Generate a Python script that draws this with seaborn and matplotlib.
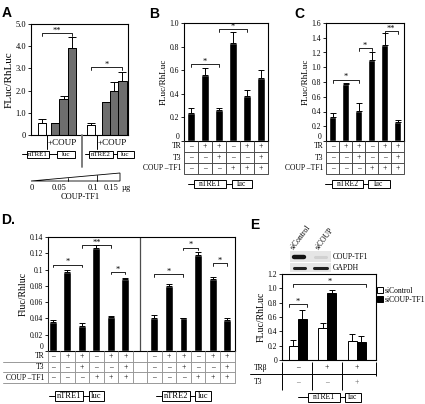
import numpy as np
import pandas as pd
import matplotlib
matplotlib.use('Agg')
import matplotlib.pyplot as plt
import matplotlib.transforms as mtransforms
from matplotlib.patches import Rectangle, Polygon
import seaborn as sns

W, H = 425, 404

# ---- data ----
# A: COUP-TF1 titration on nTRE1 / nTRE2
a_kind = ['ctrl', 'coup', 'coup', 'coup', 'ctrl', 'coup', 'coup', 'coup']
a_vals = [0.55, 0.55, 1.62, 3.92, 0.45, 1.50, 2.00, 2.42]
a_err = [0.15, 0.0, 0.12, 0.50, 0.07, 0.0, 0.40, 0.42]
a_pos = [0, 1.6, 2.6, 3.6, 5.9, 7.7, 8.7, 9.7]

# B / C
b_vals = [0.24, 0.56, 0.26, 0.83, 0.38, 0.53]
b_err = [0.04, 0.06, 0.02, 0.09, 0.05, 0.07]
c_vals = [0.33, 0.77, 0.41, 1.10, 1.30, 0.26]
c_err = [0.05, 0.02, 0.10, 0.10, 0.17, 0.03]
tr_row = ['–', '+', '+', '–', '+', '+']
t3_row = ['–', '–', '+', '–', '–', '+']
coup_row = ['–', '–', '–', '+', '+', '+']
row_names = ['TR', 'T3', 'COUP –TF1']

# D
d_vals_1 = [0.036, 0.097, 0.031, 0.127, 0.042, 0.088]
d_err_1 = [0.0015, 0.003, 0.003, 0.003, 0.0005, 0.002]
d_vals_2 = [0.041, 0.080, 0.040, 0.118, 0.089, 0.038]
d_err_2 = [0.003, 0.002, 0.001, 0.004, 0.002, 0.002]
d_pos = [0, 1, 2, 3, 4, 5, 7, 8, 9, 10, 11, 12]

# E
e_cond = ['a', 'b', 'c']
e_sicontrol = [0.20, 0.45, 0.27]
e_sicontrol_err = [0.08, 0.06, 0.09]
e_sicoup = [0.57, 0.93, 0.25]
e_sicoup_err = [0.13, 0.05, 0.09]
e_trb = ['–', '+', '+']
e_t3 = ['–', '–', '+']

sns.set_theme(style='ticks', rc={'axes.edgecolor': 'black', 'xtick.color': 'black',
                                 'ytick.color': 'black', 'text.color': 'black',
                                 'axes.labelcolor': 'black', 'axes.linewidth': 0.8})
plt.rcParams['font.family'] = ['Liberation Serif', 'DejaVu Serif']

fig = plt.figure(figsize=(W / 100, H / 100), dpi=100)
ov = fig.add_axes([0, 0, 1, 1], zorder=5)
ov.set_xlim(0, W)
ov.set_ylim(H, 0)
ov.axis('off')


def rect(x0, y0, x1, y1):
    return [x0 / W, 1 - y1 / H, (x1 - x0) / W, (y1 - y0) / H]


def style(ax, top, ticks, labels, ylabel, fs=5.5, lfs=6.5, lift_zero=True):
    ax.set_ylim(0, top)
    ax.set_yticks(ticks)
    ax.set_yticklabels(labels, fontsize=fs)
    ax.set_xticks([])
    ax.set_xlabel('')
    ax.set_ylabel(ylabel, fontsize=lfs, labelpad=1.5)
    for s in ax.spines.values():
        s.set_linewidth(0.8)
        s.set_visible(True)
    ax.tick_params(axis='y', length=2, width=0.6, pad=1.5)
    if lift_zero:
        ax.get_yticklabels()[0].set_va('bottom')


def err(ax, xs, vals, errs, cap=2.5):
    ax.errorbar(xs, vals, yerr=[np.zeros(len(vals)), errs], fmt='none',
                ecolor='black', elinewidth=0.7, capsize=cap, capthick=0.7)


def bracket(ax, x1, x2, y, txt, drop, fs=6):
    ax.plot([x1, x1, x2, x2], [y - drop, y, y, y - drop], color='black', lw=0.6)
    ax.annotate(txt, ((x1 + x2) / 2, y), xytext=(0, 0.3), textcoords='offset points',
                ha='center', va='baseline', fontsize=fs)


def promoter(x0, b0, b1, l0, l1, y, name, h=8, fs=5.5):
    ov.plot([x0, b0], [y, y], color='black', lw=0.7)
    ov.plot([b1, l0], [y, y], color='black', lw=0.7)
    for a, b, t in [(b0, b1, name), (l0, l1, 'luc')]:
        ov.add_patch(Rectangle((a, y - h / 2), b - a, h, facecolor='white',
                               edgecolor='black', lw=0.7))
        ov.text((a + b) / 2, y, t, ha='center', va='center', fontsize=fs)


def cond_table(ax, rpx, rows, names, cols, lab_x, line_col='0.3', hl_left=0.0, fs=5.5):
    t = fig.add_axes(rect(*rpx))
    lo, hi = ax.get_xlim()
    t.set_xlim(lo, hi)
    n = len(rows)
    t.set_ylim(n, 0)
    t.axis('off')
    bounds = [lo] + [k + 0.5 for k in range(int(max(cols)))] + [hi]
    t.vlines(bounds, 0, n, color=line_col, lw=0.7, clip_on=False)
    tr = mtransforms.blended_transform_factory(t.transAxes, t.transData)
    for k in range(1, n + 1):
        t.plot([hl_left, 1], [k, k], color=line_col, lw=0.7, transform=tr, clip_on=False)
    for r, (row, name) in enumerate(zip(rows, names)):
        for c, s in zip(cols, row):
            t.text(c, r + 0.5, s, ha='center', va='center', fontsize=fs)
        t.text(lab_x, r + 0.5, name, ha='right', va='center', fontsize=fs,
               transform=tr, clip_on=False)
    return t


def one_dec(ticks):
    return ['0' if t == 0 else f'{t:.1f}' for t in ticks]


# ---------------- A ----------------
axA = fig.add_axes(rect(31, 24, 128, 135))
df_a = pd.DataFrame({'pos': a_pos, 'val': a_vals, 'kind': a_kind})
sns.barplot(data=df_a, x='pos', y='val', hue='kind', native_scale=True, width=1.0,
            palette={'ctrl': 'white', 'coup': '#6e6e6e'}, edgecolor='black',
            linewidth=0.7, legend=False, ax=axA)
err(axA, df_a['pos'], a_vals, a_err, cap=3)
axA.set_xlim(-1.33, 10.37)
style(axA, 5.0, np.arange(0, 5.1, 1.0), one_dec(np.arange(0, 5.1, 1.0)), 'FLuc/RhLuc',
      fs=6, lfs=8, lift_zero=False)
bracket(axA, a_pos[0], a_pos[3], 4.6, '**', 0.14)
bracket(axA, a_pos[4], a_pos[7], 3.05, '*', 0.14)

for xv in (47, 97):
    ov.plot([xv, xv], [135, 149], color='black', lw=0.7)
ov.text(48, 143, '+COUP', fontsize=6.5, ha='left', va='center')
ov.text(98, 143, '+COUP', fontsize=6.5, ha='left', va='center')
ov.plot([82, 82], [135, 167], color='0.45', lw=1.3)
promoter(22, 27, 49, 57, 75, 154, 'nTRE1', h=7, fs=5)
promoter(85, 89, 113, 117, 134, 154, 'nTRE2', h=7, fs=5)
ov.add_patch(Polygon([(31, 181), (120, 173), (120, 181)], closed=True,
                     facecolor='white', edgecolor='black', lw=0.6))
for xv in (68, 97):
    ov.plot([xv, xv], [181, 181 - (xv - 31) / 89 * 8], color='black', lw=0.6)
for xv, s in [(32, '0'), (59, '0.05'), (93, '0.1'), (111, '0.15'), (126, 'µg')]:
    ov.text(xv, 188, s, fontsize=6, ha='center', va='center')
ov.text(80, 197, 'COUP-TF1', fontsize=6, ha='center', va='center')

# ---------------- B ----------------
axB = fig.add_axes(rect(184, 23, 268, 141))
sns.barplot(x=np.arange(6), y=b_vals, color='black', width=0.57, ax=axB)
xb = [p.get_x() + p.get_width() / 2 for p in axB.containers[0]]
err(axB, xb, b_vals, b_err)
axB.set_xlim(-0.5, 5.5)
style(axB, 1.0, np.arange(0, 1.01, 0.2), one_dec(np.arange(0, 1.01, 0.2)), 'FLuc/RhLuc')
bracket(axB, xb[0], xb[2], 0.65, '*', 0.025)
bracket(axB, xb[2], xb[4], 0.95, '*', 0.025)
cond_table(axB, (184, 141, 268, 174), [tr_row, t3_row, coup_row], row_names, range(6), -0.03)
promoter(188, 194, 226, 232, 252, 184, 'nTRE1')

# ---------------- C ----------------
axC = fig.add_axes(rect(326, 23, 404, 141))
sns.barplot(x=np.arange(6), y=c_vals, color='black', width=0.5, ax=axC)
xc = [p.get_x() + p.get_width() / 2 for p in axC.containers[0]]
err(axC, xc, c_vals, c_err)
axC.set_xlim(-0.5, 5.5)
style(axC, 1.6, np.arange(0, 1.61, 0.2), one_dec(np.arange(0, 1.61, 0.2)), 'FLuc/RhLuc')
bracket(axC, xc[0], xc[2], 0.83, '*', 0.04)
bracket(axC, xc[2], xc[3], 1.26, '*', 0.04)
bracket(axC, xc[4], xc[5], 1.49, '**', 0.04)
cond_table(axC, (326, 141, 404, 174), [tr_row, t3_row, coup_row], row_names, range(6), -0.03)
promoter(325, 332, 363, 368, 390, 184, 'nTRE2')

# ---------------- D ----------------
axD = fig.add_axes(rect(48, 237, 235, 351))
d_vals = d_vals_1 + d_vals_2
df_d = pd.DataFrame({'pos': d_pos, 'val': d_vals})
sns.barplot(data=df_d, x='pos', y='val', native_scale=True, color='black', width=0.55, ax=axD)
err(axD, d_pos, d_vals, d_err_1 + d_err_2)
axD.set_xlim(-0.34, 12.55)
d_ticks = np.round(np.arange(0, 0.141, 0.02), 2)
style(axD, 0.14, d_ticks, [f'{t:g}' for t in d_ticks], 'Fluc/Rhluc', lfs=7)
axD.axvline(6, color='0.3', lw=0.9)
for i, j, y, s in [(0, 2, 0.106, '*'), (2, 4, 0.130, '**'), (4, 5, 0.097, '*'),
                   (6, 8, 0.094, '*'), (8, 9, 0.127, '*'), (10, 11, 0.108, '*')]:
    bracket(axD, d_pos[i], d_pos[j], y, s, 0.003)
d_tr = tr_row + tr_row
d_t3 = t3_row + t3_row
d_coup = coup_row + coup_row
cond_table(axD, (48, 351, 235, 383), [d_tr, d_t3, d_coup], row_names, d_pos, -0.02,
           line_col='0.6', hl_left=-0.24)
promoter(49, 55, 83, 89, 104, 396, 'nTRE1', h=10, fs=6)
promoter(156, 162, 190, 195, 211, 396, 'nTRE2', h=10, fs=6)

# ---------------- E ----------------
axE = fig.add_axes(rect(282, 274, 376, 360))
df_e = pd.DataFrame({'cond': e_cond * 2,
                     'val': e_sicontrol + e_sicoup,
                     'si': ['siControl'] * 3 + ['siCOUP-TF1'] * 3})
sns.barplot(data=df_e, x='cond', y='val', hue='si', hue_order=['siControl', 'siCOUP-TF1'],
            palette={'siControl': 'white', 'siCOUP-TF1': 'black'}, width=0.61,
            edgecolor='black', linewidth=0.7, ax=axE)
xe0 = [p.get_x() + p.get_width() / 2 for p in axE.containers[0]]
xe1 = [p.get_x() + p.get_width() / 2 for p in axE.containers[1]]
err(axE, xe0, e_sicontrol, e_sicontrol_err)
err(axE, xe1, e_sicoup, e_sicoup_err)
axE.set_xlim(-0.53, 2.66)
style(axE, 1.2, np.arange(0, 1.21, 0.2), one_dec(np.arange(0, 1.21, 0.2)), 'FLuc/RhLuc',
      lfs=7, lift_zero=False)
hw = axE.containers[0][0].get_width() / 2
bracket(axE, xe0[0] - hw, xe1[0] + hw, 0.78, '*', 0.04)
bracket(axE, xe0[0], xe1[2] + hw, 1.06, '*', 0.04)
sns.move_legend(axE, 'upper left', bbox_to_anchor=(1.0, 0.86), frameon=False, title=None,
                fontsize=5.5, handlelength=0.8, handleheight=0.8, handletextpad=0.2,
                labelspacing=0.15, borderaxespad=0, borderpad=0.1)

tE = fig.add_axes(rect(282, 362, 376, 390))
tE.set_xlim(axE.get_xlim())
tE.set_ylim(2, 0)
tE.axis('off')
lo, hi = axE.get_xlim()
tE.vlines([lo, 0.5, 1.5], 0, 2, color='black', lw=0.7, clip_on=False)
tE.vlines([hi], 0, 1, color='black', lw=0.7, clip_on=False)
trE = mtransforms.blended_transform_factory(tE.transAxes, tE.transData)
tE.plot([-0.34, 1], [0.85, 0.85], color='black', lw=0.7, transform=trE, clip_on=False)
for c in range(3):
    tE.text(c, 0.4, e_trb[c], ha='center', va='center', fontsize=5.5)
    tE.text(c, 1.45, e_t3[c], ha='center', va='center', fontsize=5.5, color='0.35')
tE.text(-0.3, 0.4, 'TRβ', transform=trE, ha='left', va='center', fontsize=5.5)
tE.text(-0.3, 1.45, 'T3', transform=trE, ha='left', va='center', fontsize=5.5)
promoter(298, 308, 340, 345, 361, 397, 'nTRE1', h=9, fs=5.5)

# western blot inset
ov.add_patch(Rectangle((290, 251), 41, 11, facecolor='0.9', edgecolor='none'))
ov.add_patch(Rectangle((290, 263), 41, 9, facecolor='0.9', edgecolor='none'))
ov.plot([294, 304], [257, 257], color='0.08', lw=3.2, solid_capstyle='round')
ov.plot([315, 326], [257, 257], color='0.82', lw=2.2, solid_capstyle='round')
ov.plot([294, 305], [267.5, 267.5], color='0.12', lw=2.2, solid_capstyle='round')
ov.plot([314, 327], [267.5, 267.5], color='0.12', lw=2.2, solid_capstyle='round')
ov.text(333, 257, 'COUP-TF1', fontsize=5.5, ha='left', va='center')
ov.text(333, 268, 'GAPDH', fontsize=5.5, ha='left', va='center')
ov.text(292, 249, 'siControl', fontsize=5.5, rotation=53, rotation_mode='anchor',
        ha='left', va='center')
ov.text(317, 249, 'siCOUP', fontsize=5.5, rotation=53, rotation_mode='anchor',
        ha='left', va='center')

# panel letters
for xv, yv, s in [(2, 6, 'A'), (149, 7, 'B'), (294, 7, 'C'), (1, 213, 'D.'), (250, 218, 'E')]:
    ov.text(xv, yv, s, fontsize=10, fontweight='bold', family='Liberation Sans',
            ha='left', va='top')

fig.savefig('out.png', dpi=100)
